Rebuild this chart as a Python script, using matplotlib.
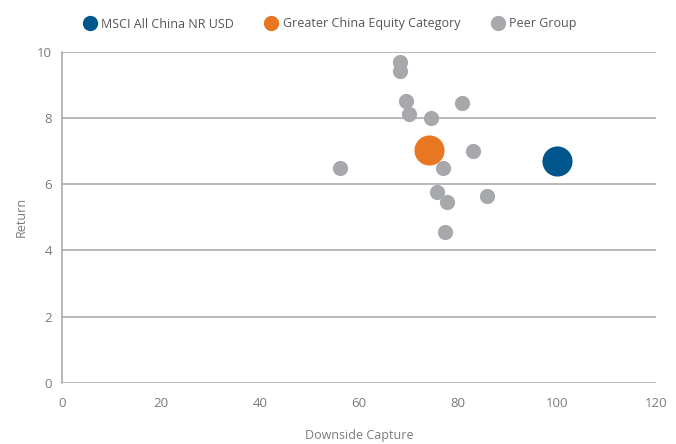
import matplotlib.pyplot as plt
from matplotlib.lines import Line2D

# data
bench_x = [100.0]
bench_y = [6.70]
cat_x = [74.1]
cat_y = [7.04]
peer_x = [68.3, 68.3, 69.5, 70.1, 74.5, 80.8, 83.0, 56.2, 77.0, 75.8, 77.8, 85.9, 77.4]
peer_y = [9.70, 9.41, 8.51, 8.12, 8.01, 8.46, 7.01, 6.48, 6.48, 5.75, 5.46, 5.64, 4.56]
legend_labels = ["MSCI All China NR USD", "Greater China Equity Category", "Peer Group"]
x_ticks = [0, 20, 40, 60, 80, 100, 120]
y_ticks = [0, 2, 4, 6, 8, 10]

BLUE = "#00558C"
ORANGE = "#E87722"
GRAY = "#A7A8AB"
TXT = "#7A7A7A"

plt.rcParams['font.family'] = ['Open Sans', 'DejaVu Sans']

fig = plt.figure(figsize=(6.76, 4.44), dpi=100)
ax = fig.add_axes([62 / 676, 1 - 382.7 / 444, 594 / 676, 331 / 444])

ax.scatter(peer_x, peer_y, s=120, color=GRAY, linewidths=0, zorder=3)
ax.scatter(cat_x, cat_y, s=470, color=ORANGE, linewidths=0, zorder=4)
ax.scatter(bench_x, bench_y, s=470, color=BLUE, linewidths=0, zorder=4)

ax.set_xlim(0, 120)
ax.set_ylim(0, 10)
ax.set_xticks(x_ticks)
ax.set_yticks(y_ticks)
ax.yaxis.grid(True, color="#A6A6A6", linewidth=1.1)
ax.set_axisbelow(True)
for s in ["top", "right", "bottom"]:
    ax.spines[s].set_visible(False)
ax.spines["left"].set_color("#A6A6A6")
ax.spines["left"].set_linewidth(1.1)
ax.tick_params(length=0, colors=TXT, labelsize=9.5)
ax.tick_params(axis="x", pad=10)
ax.tick_params(axis="y", pad=7)

ax.set_xlabel("Downside Capture", color=TXT, fontsize=9, labelpad=14)
ax.set_ylabel("Return", color=TXT, fontsize=9, labelpad=7)

handles = [Line2D([], [], marker="o", linestyle="", markersize=10, color=c)
           for c in (BLUE, ORANGE, GRAY)]
fig.legend(handles, legend_labels, loc="center left", bbox_to_anchor=(71 / 676, 1 - 24 / 444),
           ncol=3, frameon=False, fontsize=9, labelcolor="#555555",
           handletextpad=0.3, columnspacing=2.4, handlelength=1.2)

fig.savefig("out.png", dpi=100)
